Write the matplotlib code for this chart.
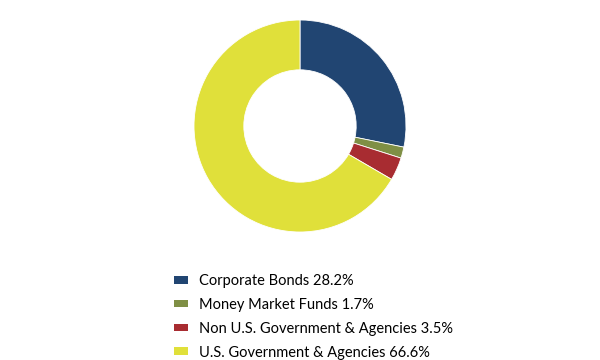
import matplotlib
matplotlib.use("Agg")
import matplotlib.pyplot as plt
from matplotlib.patches import Patch

labels = ["Corporate Bonds", "Money Market Funds", "Non U.S. Government & Agencies", "U.S. Government & Agencies"]
values = [28.2, 1.7, 3.5, 66.6]
colors = ["#214572", "#7f8f45", "#a82c31", "#e0e03a"]

plt.rcParams['font.family'] = ['Lato', 'DejaVu Sans']

fig = plt.figure(figsize=(6, 3.6), dpi=100)
cx, cy, r = 300, 126, 106
ax = fig.add_axes([(cx - r) / 600, (360 - cy - r) / 360, 2 * r / 600, 2 * r / 360])
ax.pie(values, colors=colors, startangle=90, counterclock=False,
       wedgeprops=dict(width=0.47, edgecolor='white', linewidth=0.6))
ax.set_aspect('equal')
ax.set_xlim(-1, 1)
ax.set_ylim(-1, 1)
ax.axis('off')

handles = [Patch(facecolor=c, edgecolor='none') for c in colors]
leg_labels = [f"{l} {v}%" for l, v in zip(labels, values)]
fig.legend(handles, leg_labels, loc='upper left', bbox_to_anchor=(168 / 600, 1 - 268 / 360),
           frameon=False, fontsize=10.5, handlelength=1.0, handleheight=0.45,
           handletextpad=0.7, labelspacing=0.68, borderaxespad=0)
fig.savefig("out.png", dpi=100)
